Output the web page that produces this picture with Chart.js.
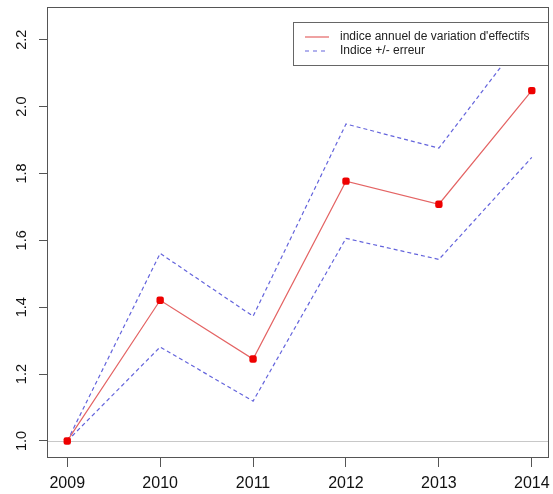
<!DOCTYPE html>
<html><head><meta charset="utf-8">
<script src="https://cdn.jsdelivr.net/npm/chart.js@4"></script>
<style>html,body{margin:0;padding:0;background:#fff}#w{width:553px;height:494px}</style>
</head><body><div id="w"><canvas id="c"></canvas></div>
<script>
const years = [2009, 2010, 2011, 2012, 2013, 2014];
const indice = [1.0, 1.421, 1.245, 1.777, 1.708, 2.048];
const upper = [1.0, 1.561, 1.373, 1.948, 1.876, 2.240];
const lower = [1.0, 1.281, 1.119, 1.606, 1.543, 1.848];
const yTicks = [1.0, 1.2, 1.4, 1.6, 1.8, 2.0, 2.2];
const refLine = 1.0;
const labelMain = "indice annuel de variation d'effectifs";
const labelErr = "Indice +/- erreur";

const FONT = "'Liberation Sans', Arial, sans-serif";
const pts = arr => years.map((y, i) => ({x: y, y: arr[i]}));

const boxPlugin = {
  id: 'rbox',
  beforeDatasetsDraw(chart) {
    const {ctx, chartArea: a, scales} = chart;
    const y = Math.round(scales.y.getPixelForValue(refLine)) + 0.5;
    ctx.save();
    ctx.strokeStyle = '#c8c8c8'; ctx.lineWidth = 1;
    ctx.beginPath(); ctx.moveTo(a.left, y); ctx.lineTo(a.right, y); ctx.stroke();
    ctx.restore();
  },
  afterDatasetsDraw(chart) {
    const {ctx, chartArea: a, scales} = chart;
    ctx.save();
    // legend
    const lx = 293.5, ly = 22.5, lw = 255, lh = 43;
    ctx.fillStyle = '#fff'; ctx.fillRect(lx, ly, lw, lh);
    ctx.strokeStyle = '#666'; ctx.lineWidth = 1; ctx.strokeRect(lx, ly, lw, lh);
    ctx.font = '12px ' + FONT; ctx.textBaseline = 'middle'; ctx.fillStyle = '#222';
    const ds = chart.data.datasets;
    ctx.lineWidth = 1.2;
    ctx.strokeStyle = ds[0].borderColor; ctx.setLineDash([]);
    ctx.beginPath(); ctx.moveTo(305, 37); ctx.lineTo(329, 37); ctx.stroke();
    ctx.fillText(ds[0].label, 340, 37);
    ctx.strokeStyle = ds[1].borderColor; ctx.setLineDash([4, 4]);
    ctx.beginPath(); ctx.moveTo(305, 51); ctx.lineTo(329, 51); ctx.stroke();
    ctx.setLineDash([]);
    ctx.fillText(ds[1].label, 340, 51);
    // box
    ctx.lineWidth = 1;
    ctx.strokeStyle = '#555';
    ctx.strokeRect(Math.round(a.left) + 0.5, Math.round(a.top) + 0.5, Math.round(a.right - a.left) - 1, Math.round(a.bottom - a.top));
    // rotated y tick labels
    const ys = scales.y;
    ctx.font = '14.5px ' + FONT; ctx.fillStyle = '#111';
    ctx.textAlign = 'center'; ctx.textBaseline = 'middle';
    ys.ticks.forEach(t => {
      const py = ys.getPixelForValue(t.value);
      ctx.save();
      ctx.translate(22, py);
      ctx.rotate(-Math.PI / 2);
      ctx.fillText(t.label, 0, 0);
      ctx.restore();
    });
    ctx.restore();
  }
};

new Chart(document.getElementById('c'), {
  type: 'line',
  data: {
    datasets: [
      {label: labelMain, data: pts(indice), borderColor: '#e46464', borderWidth: 1.2,
       pointBackgroundColor: '#ee0000', pointBorderColor: '#ee0000', pointBorderWidth: 0, pointRadius: 4.3, pointStyle: 'rectRounded', order: 0},
      {label: labelErr, data: pts(upper), borderColor: '#6464dc', borderWidth: 1.2, borderDash: [4, 3], pointRadius: 0, order: 1},
      {label: labelErr, data: pts(lower), borderColor: '#6464dc', borderWidth: 1.2, borderDash: [4, 3], pointRadius: 0, order: 1}
    ]
  },
  options: {
    responsive: true, maintainAspectRatio: false, animation: false,
    layout: {padding: {top: 7, right: 2, left: 0, bottom: 0}},
    plugins: {legend: {display: false}, tooltip: {enabled: false}},
    elements: {line: {tension: 0}},
    scales: {
      x: {
        type: 'linear', min: 2008.782, max: 2014.182,
        afterBuildTicks: s => { s.ticks = years.map(v => ({value: v})); },
        afterFit: s => { s.height = 37; s.paddingLeft = 0; s.paddingRight = 0; },
        grid: {display: true, drawOnChartArea: false, drawTicks: true, tickLength: 10, color: '#555', tickColor: '#555'},
        border: {display: false},
        ticks: {color: '#111', font: {family: FONT, size: 16}, padding: 7, maxRotation: 0, minRotation: 0,
                callback: v => String(v)}
      },
      y: {
        type: 'linear', min: 0.952, max: 2.298,
        afterBuildTicks: s => { s.ticks = yTicks.map(v => ({value: v})); },
        afterFit: s => { s.width = 47; s.paddingTop = 0; s.paddingBottom = 0; },
        grid: {display: true, drawOnChartArea: false, drawTicks: true, tickLength: 8, color: '#555', tickColor: '#555'},
        border: {display: false},
        ticks: {display: false, callback: v => v.toFixed(1)}
      }
    }
  },
  plugins: [boxPlugin]
});
</script></body></html>
